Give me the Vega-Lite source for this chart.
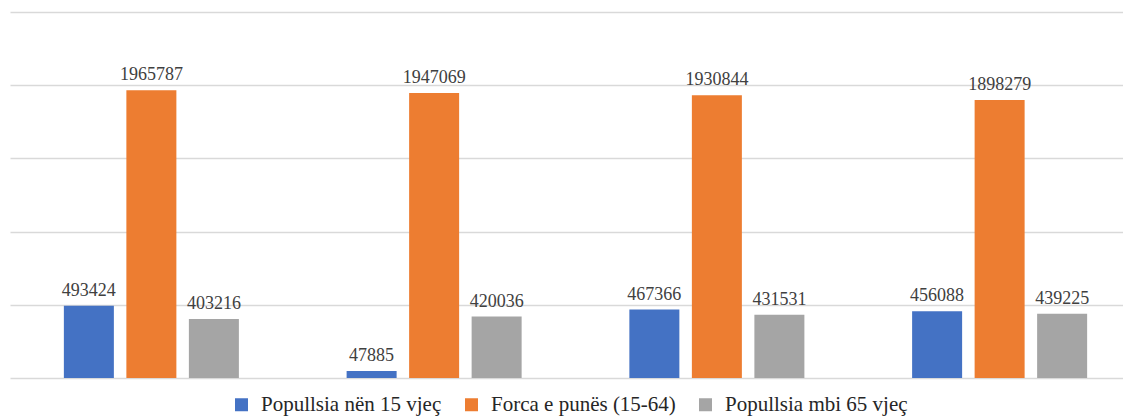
{
  "$schema": "https://vega.github.io/schema/vega-lite/v6.json",
  "width": 1131,
  "height": 366,
  "autosize": {"type": "none"},
  "padding": {"left": 10, "top": 12, "right": 0, "bottom": 39},
  "background": "white",
  "data": {
    "values": [
      {"grupi": "1", "seria": "Popullsia nën 15 vjeç", "vlera": 493424},
      {"grupi": "1", "seria": "Forca e punës (15-64)", "vlera": 1965787},
      {"grupi": "1", "seria": "Popullsia mbi 65 vjeç", "vlera": 403216},
      {"grupi": "2", "seria": "Popullsia nën 15 vjeç", "vlera": 47885},
      {"grupi": "2", "seria": "Forca e punës (15-64)", "vlera": 1947069},
      {"grupi": "2", "seria": "Popullsia mbi 65 vjeç", "vlera": 420036},
      {"grupi": "3", "seria": "Popullsia nën 15 vjeç", "vlera": 467366},
      {"grupi": "3", "seria": "Forca e punës (15-64)", "vlera": 1930844},
      {"grupi": "3", "seria": "Popullsia mbi 65 vjeç", "vlera": 431531},
      {"grupi": "4", "seria": "Popullsia nën 15 vjeç", "vlera": 456088},
      {"grupi": "4", "seria": "Forca e punës (15-64)", "vlera": 1898279},
      {"grupi": "4", "seria": "Popullsia mbi 65 vjeç", "vlera": 439225}
    ]
  },
  "encoding": {
    "x": {"field": "grupi", "type": "nominal", "axis": null,
          "scale": {"paddingInner": 0.381, "paddingOuter": 0.1905}},
    "xOffset": {"field": "seria", "type": "nominal",
                "sort": ["Popullsia nën 15 vjeç", "Forca e punës (15-64)", "Popullsia mbi 65 vjeç"],
                "scale": {"paddingInner": 0.2, "paddingOuter": 0}},
    "y": {"field": "vlera", "type": "quantitative",
          "scale": {"domain": [0, 2500000], "nice": false},
          "axis": {"values": [0, 500000, 1000000, 1500000, 2000000, 2500000],
                   "labels": false, "ticks": false, "domain": false, "title": null,
                   "grid": true, "gridColor": "#d9d9d9", "gridWidth": 1.5}}
  },
  "layer": [
    {
      "mark": {"type": "bar"},
      "encoding": {
        "color": {"field": "seria", "type": "nominal",
                  "scale": {"domain": ["Popullsia nën 15 vjeç", "Forca e punës (15-64)", "Popullsia mbi 65 vjeç"],
                            "range": ["#4472C4", "#ED7D31", "#A5A5A5"]},
                  "legend": {"title": null, "orient": "none", "direction": "horizontal",
                             "legendX": 221, "legendY": 382, "padding": 0,
                             "symbolType": "square", "symbolSize": 169, "symbolStrokeWidth": 0,
                             "labelFont": "'Liberation Serif', 'DejaVu Serif', serif", "labelFontSize": 21, "labelColor": "#262626",
                             "labelOffset": 9, "columnPadding": 19, "labelLimit": 400}}
      }
    },
    {
      "mark": {"type": "text", "baseline": "bottom", "dy": -6, "font": "'Liberation Serif', 'DejaVu Serif', serif", "fontSize": 18, "color": "#404040"},
      "encoding": {"text": {"field": "vlera", "type": "quantitative", "format": "d"}}
    }
  ],
  "config": {"view": {"stroke": null}}
}
